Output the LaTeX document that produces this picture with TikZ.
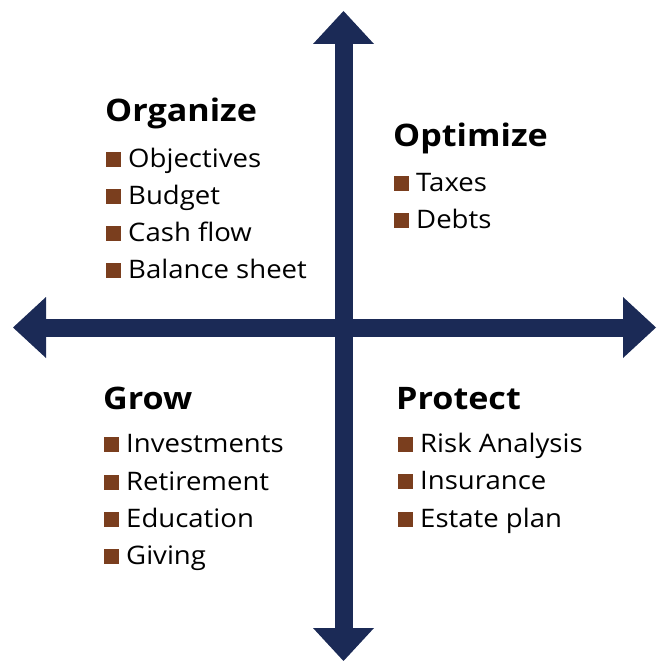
\documentclass[tikz,border=0pt]{standalone}
\usepackage{fontspec}
\setmainfont{Open Sans}
\newfontfamily\itemfont[FakeStretch=1.08]{Open Sans}
\newfontfamily\headfont[FakeStretch=1.1]{Open Sans}
\usepackage{xcolor}
\usetikzlibrary{arrows.meta}
\definecolor{axisblue}{HTML}{1B2A56}
\definecolor{bulletbrown}{HTML}{7A3E1E}
\newcommand{\bul}{{\color{bulletbrown}\rule{15pt}{15pt}}\hspace{7pt}}
\tikzset{head/.style={font=\headfont\bfseries\fontsize{31}{31}\selectfont, anchor=base west, inner sep=0pt}}
\tikzset{item/.style={font=\itemfont\fontsize{25.5}{25.5}\selectfont, anchor=base west, inner sep=0pt}}
\tikzset{axis/.style={draw=axisblue, line width=18pt,
  {Triangle[width=61pt,length=33pt,line width=0pt]}-{Triangle[width=61pt,length=33pt,line width=0pt]}}}

\begin{document}
\begin{tikzpicture}[x=1pt,y=-1pt]
\useasboundingbox (0,0) rectangle (656,661);
\coordinate (n) at (343.5,11);
\coordinate (s) at (343.5,661);
\coordinate (w) at (13,327.5);
\coordinate (e) at (656,327.5);
\draw[axis] (w) -- (e);
\draw[axis] (n) -- (s);
% top left
\node[head] (org) at (105,121) {Organize};
\node[item] (org1) at (106,167) {\bul Objectives};
\node[item] (org2) at (106,204) {\bul Budget};
\node[item] (org3) at (106,241) {\bul Cash flow};
\node[item] (org4) at (106,278) {\bul Balance sheet};
% top right
\node[head] (opt) at (393,146) {Optimize};
\node[item] (opt1) at (394,191) {\bul Taxes};
\node[item] (opt2) at (394,228) {\bul Debts};
% bottom left
\node[head] (grow) at (103,409) {Grow};
\node[item] (grow1) at (104,452) {\bul Investments};
\node[item] (grow2) at (104,490) {\bul Retirement};
\node[item] (grow3) at (104,527) {\bul Education};
\node[item] (grow4) at (104,564) {\bul Giving};
% bottom right
\node[head] (prot) at (396,409) {Protect};
\node[item] (prot1) at (398,452) {\bul Risk Analysis};
\node[item] (prot2) at (398,489) {\bul Insurance};
\node[item] (prot3) at (398,527) {\bul Estate plan};
\end{tikzpicture}
\end{document}
